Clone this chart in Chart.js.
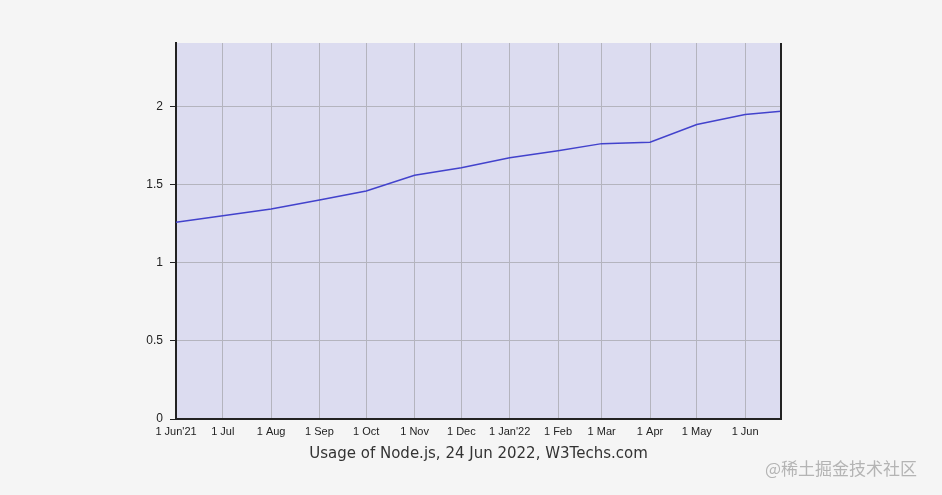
<!DOCTYPE html>
<html>
<head>
<meta charset="utf-8">
<script src="https://cdn.jsdelivr.net/npm/chart.js@4"></script>
<style>
  html, body { margin: 0; padding: 0; background: #f5f5f5; }
  #wrap { position: relative; width: 942px; height: 495px; }
  #mark {
    position: absolute; left: 765px; top: 455px;
    font: 17px "Noto Sans CJK SC", sans-serif; color: #b4b4b4;
    white-space: nowrap;
  }
</style>
</head>
<body>
<div id="wrap">
  <canvas id="chart" width="942" height="495"></canvas>
  <div id="mark">@稀土掘金技术社区</div>
</div>
<script>
// days counted from 1 Jun 2021
const xTickDays = [0, 30, 61, 92, 122, 153, 183, 214, 245, 273, 304, 334, 365];
const xTickLabels = ["1 Jun'21", '1 Jul', '1 Aug', '1 Sep', '1 Oct', '1 Nov', '1 Dec',
  "1 Jan'22", '1 Feb', '1 Mar', '1 Apr', '1 May', '1 Jun'];
const yTicks = [0, 0.5, 1, 1.5, 2];

// Node.js usage (%)
const usageDays = [0, 30, 61, 92, 122, 153, 183, 214, 245, 273, 304, 334, 365, 388];
const usageValues = [1.261, 1.303, 1.346, 1.404, 1.462, 1.562, 1.611, 1.675, 1.72, 1.765,
  1.774, 1.887, 1.951, 1.972];

const titleText = 'Usage of Node.js, 24 Jun 2022, W3Techs.com';

// 绘图区背景和右边框
const plotBg = {
  id: 'plotBg',
  beforeDraw(chart) {
    const { ctx, chartArea: a } = chart;
    ctx.save();
    ctx.fillStyle = '#dcdcf0';
    ctx.fillRect(a.left, a.top, a.right - a.left, a.bottom - a.top);
    ctx.restore();
  },
  afterDraw(chart) {
    const { ctx, chartArea: a } = chart;
    ctx.save();
    ctx.strokeStyle = '#222';
    ctx.lineWidth = 2;
    ctx.beginPath();
    ctx.moveTo(a.right, a.top);
    ctx.lineTo(a.right, a.bottom);
    ctx.stroke();
    ctx.restore();
  }
};

new Chart(document.getElementById('chart'), {
  type: 'line',
  data: {
    datasets: [{
      data: usageDays.map((d, i) => ({ x: d, y: usageValues[i] })),
      borderColor: '#4242cc',
      borderWidth: 1.5,
      pointRadius: 0,
      tension: 0,
      fill: false
    }]
  },
  options: {
    responsive: false,
    animation: false,
    layout: { padding: { top: 43, right: 161, left: 0, bottom: 28 } },
    plugins: {
      legend: { display: false },
      tooltip: { enabled: false }
    },
    scales: {
      x: {
        type: 'linear',
        min: 0,
        max: 388,
        afterBuildTicks: scale => { scale.ticks = xTickDays.map(v => ({ value: v })); },
        afterFit: scale => { scale.height = 48; },
        grid: { color: '#b4b4be', drawTicks: false },
        border: { color: '#222', width: 2 },
        ticks: {
          padding: 6,
          maxRotation: 0,
          autoSkip: false,
          color: '#222',
          font: { family: 'Liberation Sans', size: 11 },
          callback: (v, i) => xTickLabels[i]
        },
        title: {
          display: true,
          text: titleText,
          color: '#333',
          font: { family: 'DejaVu Sans', size: 15 },
          padding: { top: 4 }
        }
      },
      y: {
        min: 0,
        max: 2.41,
        afterBuildTicks: scale => { scale.ticks = yTicks.map(v => ({ value: v })); },
        afterFit: scale => { scale.width = 176; },
        grid: { color: '#b4b4be', tickColor: '#222', tickLength: 6 },
        border: { color: '#222', width: 2 },
        ticks: {
          padding: 7,
          color: '#222',
          font: { family: 'Liberation Sans', size: 12 },
          callback: v => String(v)
        }
      }
    }
  },
  plugins: [plotBg]
});
</script>
</body>
</html>
